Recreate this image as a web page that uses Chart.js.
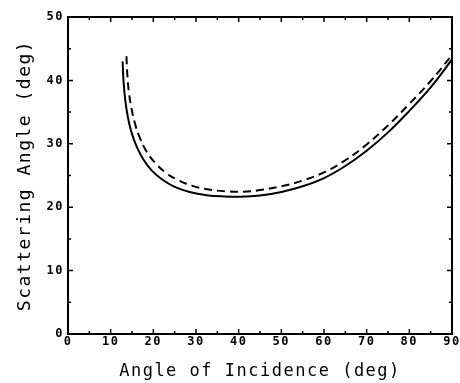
<!DOCTYPE html>
<html>
<head>
<meta charset="utf-8">
<script src="https://cdn.jsdelivr.net/npm/chart.js@4/dist/chart.umd.min.js"></script>
<style>
  html, body { margin: 0; padding: 0; background: #fff; }
  #wrap { width: 460px; height: 383px; }
</style>
</head>
<body>
<div id="wrap"><canvas id="scatterChart" width="460" height="383"></canvas></div>
<script>
"use strict";

// values
const solidX = [12.8, 13.0, 13.4, 14.0, 14.8, 16.0, 17.6, 19.6, 22.0, 25.0, 28.5, 32.5, 36.5, 40.5, 45, 50, 55, 60, 65, 70, 75, 80, 85, 90];
const solidY = [43.0, 40.0, 37.0, 34.3, 32.0, 29.7, 27.6, 25.8, 24.4, 23.2, 22.4, 21.9, 21.7, 21.65, 21.85, 22.4, 23.3, 24.6, 26.5, 28.9, 31.8, 35.2, 38.9, 43.3];

const dashX = [13.7, 13.9, 14.3, 14.9, 15.7, 16.8, 18.4, 20.4, 22.8, 25.7, 29.0, 33, 37, 41, 45, 50, 55, 60, 65, 70, 75, 80, 85, 90];
const dashY = [43.8, 41.0, 38.0, 35.5, 33.2, 31.0, 28.8, 27.0, 25.5, 24.3, 23.4, 22.8, 22.5, 22.45, 22.7, 23.3, 24.2, 25.5, 27.4, 29.9, 32.9, 36.3, 39.9, 44.0];

const xTicks = [0, 10, 20, 30, 40, 50, 60, 70, 80, 90];
const yTicks = [0, 10, 20, 30, 40, 50];

const toPoints = (xs, ys) => xs.map((x, i) => ({x: x, y: ys[i]}));

const MONO = "'DejaVu Sans Mono', monospace";

// letter spacing to get the wide plotter look
const spacing = {
  id: "spacing",
  beforeUpdate(chart) { chart.ctx.letterSpacing = "1.5px"; },
  beforeDraw(chart) { chart.ctx.letterSpacing = "1.5px"; },
};

// frame + inward ticks on all four sides
const frame = {
  id: "frame",
  afterDatasetsDraw(chart) {
    const {ctx, chartArea: a, scales} = chart;
    const xs = scales.x, ys = scales.y;
    ctx.save();
    ctx.strokeStyle = "#000";
    ctx.lineWidth = 1.5;
    for (let v = 0; v <= 90; v += 5) {
      const px = xs.getPixelForValue(v);
      const len = v % 10 === 0 ? 5 : 3;
      ctx.beginPath();
      ctx.moveTo(px, a.bottom); ctx.lineTo(px, a.bottom - len);
      ctx.moveTo(px, a.top); ctx.lineTo(px, a.top + len);
      ctx.stroke();
    }
    for (let v = 0; v <= 50; v += 5) {
      const py = ys.getPixelForValue(v);
      const len = v % 10 === 0 ? 5 : 3;
      ctx.beginPath();
      ctx.moveTo(a.left, py); ctx.lineTo(a.left + len, py);
      ctx.moveTo(a.right, py); ctx.lineTo(a.right - len, py);
      ctx.stroke();
    }
    ctx.lineWidth = 2;
    ctx.strokeRect(a.left, a.top, a.right - a.left, a.bottom - a.top);
    ctx.restore();
  },
};

const ctx = document.getElementById("scatterChart").getContext("2d");

const chart = new Chart(ctx, {
  type: "scatter",
  data: {
    datasets: [
      {
        label: "solid",
        data: toPoints(solidX, solidY),
        showLine: true,
        borderColor: "#000",
        borderWidth: 2,
        pointRadius: 0,
        tension: 0.4,
      },
      {
        label: "dashed",
        data: toPoints(dashX, dashY),
        showLine: true,
        borderColor: "#000",
        borderWidth: 2,
        borderDash: [8, 5],
        pointRadius: 0,
        tension: 0.4,
      },
    ],
  },
  plugins: [spacing, frame],
  options: {
    responsive: false,
    animation: false,
    devicePixelRatio: 1,
    layout: { padding: { top: 17, right: 8, left: 0, bottom: 0 } },
    plugins: {
      legend: { display: false },
      tooltip: { enabled: false },
    },
    scales: {
      x: {
        type: "linear",
        min: 0,
        max: 90,
        afterBuildTicks: (s) => { s.ticks = xTicks.map(v => ({value: v})); },
        afterFit: (s) => { s.height = 49; s.paddingLeft = 0; s.paddingRight = 0; },
        grid: { display: false, drawTicks: false },
        border: { display: false },
        ticks: {
          color: "#000",
          padding: 1,
          maxRotation: 0,
          font: { family: MONO, size: 12, weight: "bold" },
        },
        title: {
          display: true,
          text: "Angle of Incidence (deg)",
          color: "#000",
          padding: { top: 0, bottom: 1 },
          font: { family: MONO, size: 17 },
        },
      },
      y: {
        type: "linear",
        min: 0,
        max: 50,
        afterBuildTicks: (s) => { s.ticks = yTicks.map(v => ({value: v})); },
        afterFit: (s) => { s.width = 68; s.paddingTop = 0; s.paddingBottom = 0; },
        grid: { display: false, drawTicks: false },
        border: { display: false },
        ticks: {
          color: "#000",
          padding: 4,
          font: { family: MONO, size: 12, weight: "bold" },
        },
        title: {
          display: true,
          text: "Scattering Angle (deg)",
          color: "#000",
          padding: { top: 15, bottom: 0 },
          font: { family: MONO, size: 18 },
        },
      },
    },
  },
});
</script>
</body>
</html>
